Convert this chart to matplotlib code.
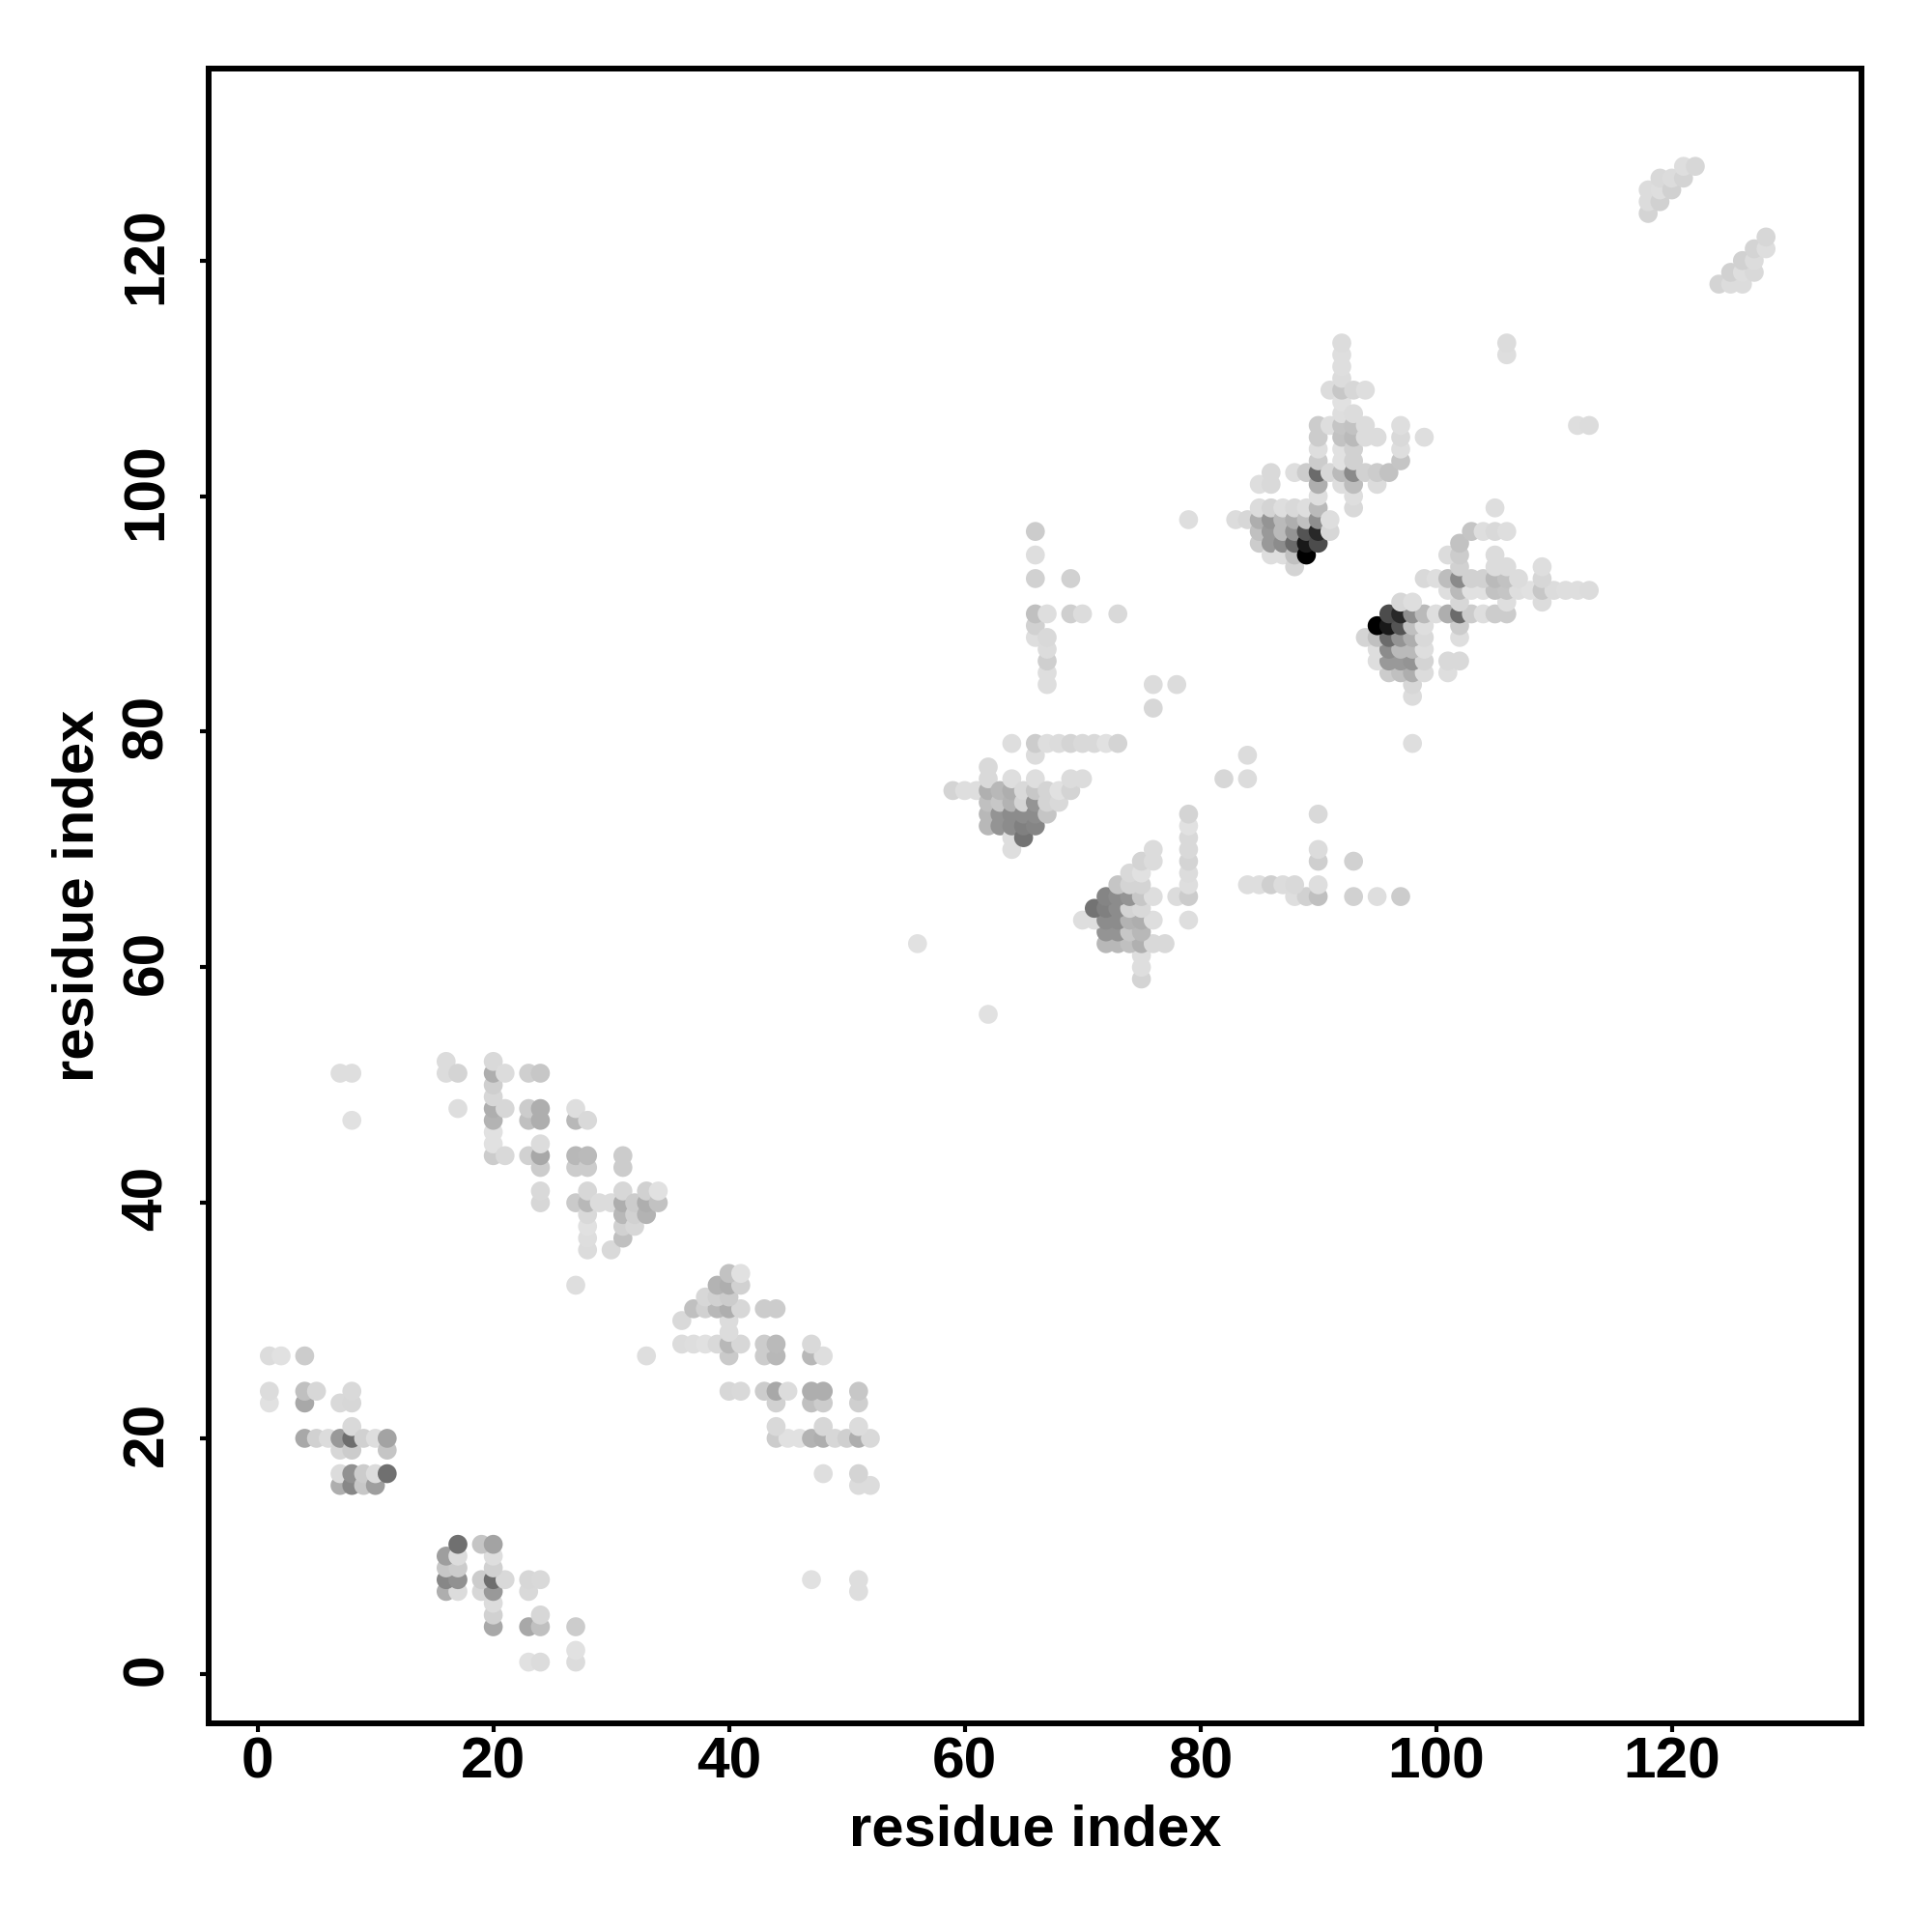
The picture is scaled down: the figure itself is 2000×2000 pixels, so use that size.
import numpy as np
import matplotlib
matplotlib.use('Agg')
import matplotlib.pyplot as plt
from matplotlib.transforms import ScaledTranslation

plt.rcParams['font.family'] = ['Liberation Sans', 'DejaVu Sans']
plt.rcParams['font.weight'] = 'bold'

# contact pairs (res_i < res_j), grouped by res_i
res_i = [1]*3 + [2] + [4]*4 + [5]*2 + [6] + [7]*6 + [8]*9 + [9]*3 + [10]*3 + [11]*3 \
    + [16]*2 + [17]*2 + [20]*9 + [21]*3 + [23]*4 + [24]*8 + [27]*6 + [28]*9 + [29] + [30]*2 \
    + [31]*7 + [32]*3 + [33]*3 + [34]*2 + [56] + [59] + [60] + [61] + [62]*6 + [63]*4 \
    + [64]*8 + [65]*5 + [66]*13 + [67]*10 + [68]*3 + [69]*5 + [70]*3 + [71] + [72] + [73]*2 \
    + [76]*2 + [78] + [79] + [83] + [84] + [85]*5 + [86]*7 + [87]*5 + [88]*7 + [89]*6 \
    + [90]*11 + [91]*5 + [92]*13 + [93]*10 + [94]*4 + [95]*3 + [96] + [97]*4 + [99] + [106]*2 \
    + [118]*3 + [119]*3 + [120]*2 + [121]*2 + [122]

res_j = [23, 24, 27,  27,  20, 23, 24, 27,  20, 24,  20,
         16, 17, 19, 20, 23, 51,
         16, 17, 19, 20, 21, 23, 24, 47, 51,
         16, 17, 20,  16, 17, 20,  17, 19, 20,
         51, 52,  48, 51,
         44, 45, 46, 47, 48, 49, 50, 51, 52,
         44, 48, 51,  44, 47, 48, 51,
         40, 41, 43, 44, 45, 47, 48, 51,
         33, 40, 43, 44, 47, 48,
         36, 37, 38, 39, 40, 41, 43, 44, 47,
         40,  36, 40,
         37, 38, 39, 40, 41, 43, 44,
         38, 39, 40,  39, 40, 41,  40, 41,
         62,  75,  75,  75,
         72, 73, 74, 75, 76, 77,
         72, 73, 74, 75,
         70, 71, 72, 73, 74, 75, 76, 79,
         71, 72, 73, 74, 75,
         72, 73, 74, 75, 76, 78, 79, 88, 89, 90, 93, 95, 97,
         73, 74, 75, 79, 84, 85, 86, 87, 88, 90,
         74, 75, 79,
         75, 76, 79, 90, 93,
         76, 79, 90,  79,  79,  79, 90,
         82, 84,  84,  98,  98,  98,
         96, 97, 98, 99, 101,
         95, 96, 97, 98, 99, 101, 102,
         95, 96, 97, 98, 99,
         94, 95, 96, 97, 98, 99, 102,
         95, 96, 97, 98, 99, 102,
         96, 97, 98, 99, 100, 101, 102, 103, 104, 105, 106,
         97, 98, 102, 106, 109,
         101, 102, 103, 104, 105, 106, 107, 108, 109, 110, 111, 112, 113,
         99, 100, 101, 102, 103, 104, 105, 106, 107, 109,
         102, 105, 106, 109,
         101, 102, 105,
         102,
         103, 104, 105, 106,
         105,
         112, 113,
         124, 125, 126,  125, 126, 127,  126, 127,  127, 128,  128]

# grey level of each contact, 0 black, 1 white
grey = [.88, .86, .86,  .88,  .66, .66, .75, .80,  .82, .84,  .86,
        .68, .86, .84, .60, .85, .87,
        .53, .57, .80, .43, .85, .84, .85, .88, .87,
        .78, .80, .82,  .62, .86, .87,  .44, .77, .64,
        .86, .86,  .87, .83,
        .80, .88, .88, .70, .68, .84, .81, .68, .85,
        .85, .84, .86,  .82, .75, .80, .81,
        .84, .85, .80, .66, .86, .68, .68, .78,
        .87, .79, .80, .72, .72, .87,
        .86, .87, .88, .85, .72, .84, .80, .73, .85,
        .86,  .85, .86,
        .75, .82, .72, .68, .84, .80, .80,
        .84, .82, .80,  .70, .68, .82,  .76, .88,
        .88,  .83,  .87,  .87,
        .72, .72, .75, .69, .85, .85,
        .58, .58, .78, .72,
        .87, .87, .55, .55, .70, .68, .87, .87,
        .45, .50, .55, .83, .85,
        .52, .55, .58, .78, .87, .86, .80, .87, .82, .75, .82, .87, .80,
        .77, .83, .83, .87, .87, .87, .81, .86, .85, .87,
        .85, .88, .86,
        .83, .86, .83, .81, .82,
        .86, .85, .86,  .85,  .88,  .83, .85,
        .84, .86,  .86,  .87,  .86,  .84,
        .80, .75, .68, .86, .87,
        .87, .60, .60, .58, .83, .85, .85,
        .87, .55, .73, .73, .87,
        .83, .75, .42, .58, .68, .85, .87,
        .00, .10, .33, .75, .87, .80,
        .30, .16, .56, .73, .87, .68, .42, .80, .87, .80, .80,
        .84, .87, .84, .87, .86,
        .87, .73, .88, .88, .76, .77, .87, .88, .78, .86, .87, .87, .86,
        .85, .87, .74, .54, .82, .82, .73, .76, .86, .84,
        .82, .86, .86, .87,
        .86, .80, .86,
        .76,
        .77, .87, .85, .87,
        .87,
        .87, .86,
        .83, .86, .86,  .82, .87, .85,  .82, .86,  .83, .87,  .84]

ticks = [0, 20, 40, 60, 80, 100, 120]

# each pair is drawn on both sides of the diagonal
x = np.column_stack([res_i, res_j]).ravel()
y = np.column_stack([res_j, res_i]).ravel()
c = np.repeat(grey, 2)

fig = plt.figure(figsize=(20, 20), dpi=100)
ax = fig.add_axes([216/2000, 1 - 1784/2000, (1927-216)/2000, (1784-71)/2000])
ax.scatter(x, y, c=c, cmap='gray', vmin=0, vmax=1, s=200, linewidths=0, zorder=2)

ax.set_xlim(-4.15, 136.1)
ax.set_ylim(-4.2, 136.3)
ax.set_xticks(ticks)
ax.set_yticks(ticks)
ax.tick_params(axis='both', labelsize=43.5, length=6.5, width=3)
ax.tick_params(axis='x', pad=3)
ax.tick_params(axis='y', pad=19.5)
plt.setp(ax.get_yticklabels(), rotation=90, va='center')
# rotated labels sit a little low otherwise
nudge = ScaledTranslation(0, 0.05, fig.dpi_scale_trans)
for label in ax.get_yticklabels():
    label.set_transform(label.get_transform() + nudge)
for spine in ax.spines.values():
    spine.set_linewidth(4.3)

ax.set_xlabel('residue index', fontsize=43, fontweight='bold', labelpad=11)
ax.set_ylabel('residue index', fontsize=43, fontweight='bold', labelpad=12)

fig.savefig('out.png', dpi=100, facecolor='white')
